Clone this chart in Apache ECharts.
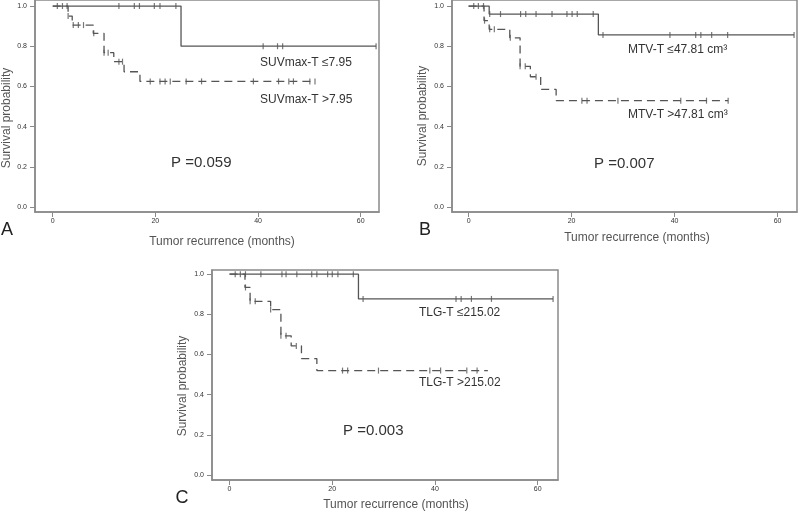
<!DOCTYPE html>
<html>
<head>
<meta charset="utf-8">
<script src="https://cdn.jsdelivr.net/npm/echarts@6/dist/echarts.min.js"></script>
<style>
    html, body { margin: 0; padding: 0; background: #fff; }
    #chart { width: 800px; height: 513px; }
</style>
</head>
<body>
<div id="chart"></div>
<script>
// tick labels
const monthTicks = [0, 20, 40, 60];
const probTicks = [0, 0.2, 0.4, 0.6, 0.8, 1.0];

// A: SUVmax-T
const suvLowSteps = [[0, 1], [25, 0.8], [63, 0.8]];
const suvLowCensor = [0.9, 1.9, 2.8, 12.9, 15.9, 16.9, 19.8, 20.9, 24, 41, 43.8, 44.8, 63];
const suvHighSteps = [[0, 1], [3, 0.95], [3.8, 0.905], [7.9, 0.864], [10, 0.768], [11.9, 0.723], [13.9, 0.673], [17, 0.625], [51.1, 0.625]];
const suvHighCensor = [3, 4, 5, 6, 8, 10, 10.8, 12.9, 13.6, 19, 20.9, 21.9, 22.9, 26, 29, 39.1, 44, 46, 46.9, 50.1, 51.1];

// B: MTV-T
const mtvLowSteps = [[0, 1], [4, 0.96], [25.2, 0.856], [63.2, 0.856]];
const mtvLowCensor = [1, 1.9, 2.9, 4.1, 6.2, 10.1, 11.1, 13.1, 16.2, 19.1, 20.1, 21.1, 24.2, 26.1, 39.1, 44.1, 45.1, 47.2, 50.3, 63.2];
const mtvHighSteps = [[0, 1], [3, 0.927], [4, 0.884], [8, 0.842], [10, 0.7], [12, 0.648], [14, 0.585], [17, 0.529], [50.4, 0.529]];
const mtvHighCensor = [3.1, 4.1, 5, 8.1, 10, 11, 13.1, 22, 23, 29, 41.2, 46.2, 50.4];

// C: TLG-T
const tlgLowSteps = [[0, 1], [25.1, 0.877], [63, 0.877]];
const tlgLowCensor = [1.1, 2.1, 3.1, 6.1, 10.2, 11, 13.1, 16, 17, 19.1, 20, 21.1, 24.1, 26, 44.1, 45.1, 47.1, 51, 63];
const tlgHighSteps = [[0, 1], [3, 0.934], [4, 0.865], [8, 0.824], [10, 0.693], [12, 0.643], [14, 0.58], [17, 0.52], [50.3, 0.52]];
const tlgHighCensor = [3.1, 4, 5, 8, 10, 11, 13, 22, 23, 29, 39, 41.1, 46.2, 48.2];

const FONT = "'Liberation Sans', Arial, sans-serif";
const LINE = "#555";
const BOX = "#8a8a8a";

function survAt(steps, t) {
    let s = steps[0][1];
    steps.forEach(function (p) {
        if (p[0] <= t) s = p[1];
    });
    return s;
}

function curve(idx, steps, dashed) {
    return {
        type: "line",
        xAxisIndex: idx,
        yAxisIndex: idx,
        step: "end",
        symbol: "none",
        silent: true,
        lineStyle: { color: LINE, width: 1.3, type: dashed ? [8, 5] : "solid" },
        data: steps,
    };
}

function censor(idx, steps, times) {
    return {
        type: "scatter",
        xAxisIndex: idx,
        yAxisIndex: idx,
        symbol: "rect",
        symbolSize: [1.2, 6],
        silent: true,
        itemStyle: { color: LINE },
        data: times.map(function (t) {
            return [t, survAt(steps, t)];
        }),
    };
}

function xAxisFor(idx, min, max) {
    return {
        gridIndex: idx,
        type: "value",
        min: min,
        max: max,
        axisLine: { show: true, onZero: false, lineStyle: { color: BOX, width: 1.5 } },
        axisTick: { show: true, length: 5, customValues: monthTicks, lineStyle: { color: BOX } },
        axisLabel: { customValues: monthTicks, fontSize: 7, color: "#333", margin: 6, fontFamily: FONT },
        splitLine: { show: false },
    };
}

function yAxisFor(idx, min, max) {
    return {
        gridIndex: idx,
        type: "value",
        min: min,
        max: max,
        axisLine: { show: true, onZero: false, lineStyle: { color: BOX, width: 1.5 } },
        axisTick: { show: true, length: 5, customValues: probTicks, lineStyle: { color: BOX } },
        axisLabel: {
            customValues: probTicks,
            fontSize: 7,
            color: "#333",
            margin: 8,
            fontFamily: FONT,
            formatter: function (v) { return v.toFixed(1); },
        },
        splitLine: { show: false },
    };
}

function txt(x, y, text, size) {
    return {
        type: "text",
        x: x,
        y: y,
        style: {
            text: text,
            fontSize: size,
            fontFamily: FONT,
            fill: "#333",
            align: "left",
            verticalAlign: "middle",
        },
    };
}

function ctxt(x, y, text, size, rotate, color) {
    return {
        type: "text",
        x: x,
        y: y,
        rotation: rotate ? Math.PI / 2 : 0,
        style: {
            text: text,
            fontSize: size,
            fontFamily: FONT,
            fill: color || "#555",
            align: "center",
            verticalAlign: "middle",
        },
    };
}

const chart = echarts.init(document.getElementById("chart"));

chart.setOption({
    backgroundColor: "#fff",
    animation: false,
    grid: [
        { left: 35, top: 0, width: 344, height: 212, show: true, borderColor: BOX, borderWidth: 1.5 },
        { left: 452, top: 0, width: 345, height: 212, show: true, borderColor: BOX, borderWidth: 1.5 },
        { left: 212, top: 270, width: 346, height: 210, show: true, borderColor: BOX, borderWidth: 1.5 },
    ],
    xAxis: [
        xAxisFor(0, -3.45, 63.57),
        xAxisFor(1, -3.22, 63.77),
        xAxisFor(2, -3.42, 63.96),
    ],
    yAxis: [
        yAxisFor(0, -0.025, 1.03),
        yAxisFor(1, -0.025, 1.03),
        yAxisFor(2, -0.025, 1.021),
    ],
    series: [
        curve(0, suvLowSteps, false),
        curve(0, suvHighSteps, true),
        censor(0, suvLowSteps, suvLowCensor),
        censor(0, suvHighSteps, suvHighCensor),
        curve(1, mtvLowSteps, false),
        curve(1, mtvHighSteps, true),
        censor(1, mtvLowSteps, mtvLowCensor),
        censor(1, mtvHighSteps, mtvHighCensor),
        curve(2, tlgLowSteps, false),
        curve(2, tlgHighSteps, true),
        censor(2, tlgLowSteps, tlgLowCensor),
        censor(2, tlgHighSteps, tlgHighCensor),
    ],
    graphic: [
        // panel A
        txt(260, 63, "SUVmax-T ≤7.95", 12),
        txt(260, 100, "SUVmax-T >7.95", 12),
        txt(171, 163, "P =0.059", 15),
        ctxt(7, 118, "Survival probability", 12, true),
        ctxt(222, 242, "Tumor recurrence (months)", 12, false),
        ctxt(7, 230, "A", 18, false, "#222"),
        // panel B
        txt(628, 50, "MTV-T ≤47.81 cm³", 12),
        txt(628, 115, "MTV-T >47.81 cm³", 12),
        txt(594, 164, "P =0.007", 15),
        ctxt(423, 116, "Survival probability", 12, true),
        ctxt(637, 238, "Tumor recurrence (months)", 12, false),
        ctxt(425, 230, "B", 18, false, "#222"),
        // panel C
        txt(419, 313, "TLG-T ≤215.02", 12),
        txt(419, 383, "TLG-T >215.02", 12),
        txt(343, 431, "P =0.003", 15),
        ctxt(183, 386, "Survival probability", 12, true),
        ctxt(396, 505, "Tumor recurrence (months)", 12, false),
        ctxt(182, 498, "C", 18, false, "#222"),
    ],
});
</script>
</body>
</html>
